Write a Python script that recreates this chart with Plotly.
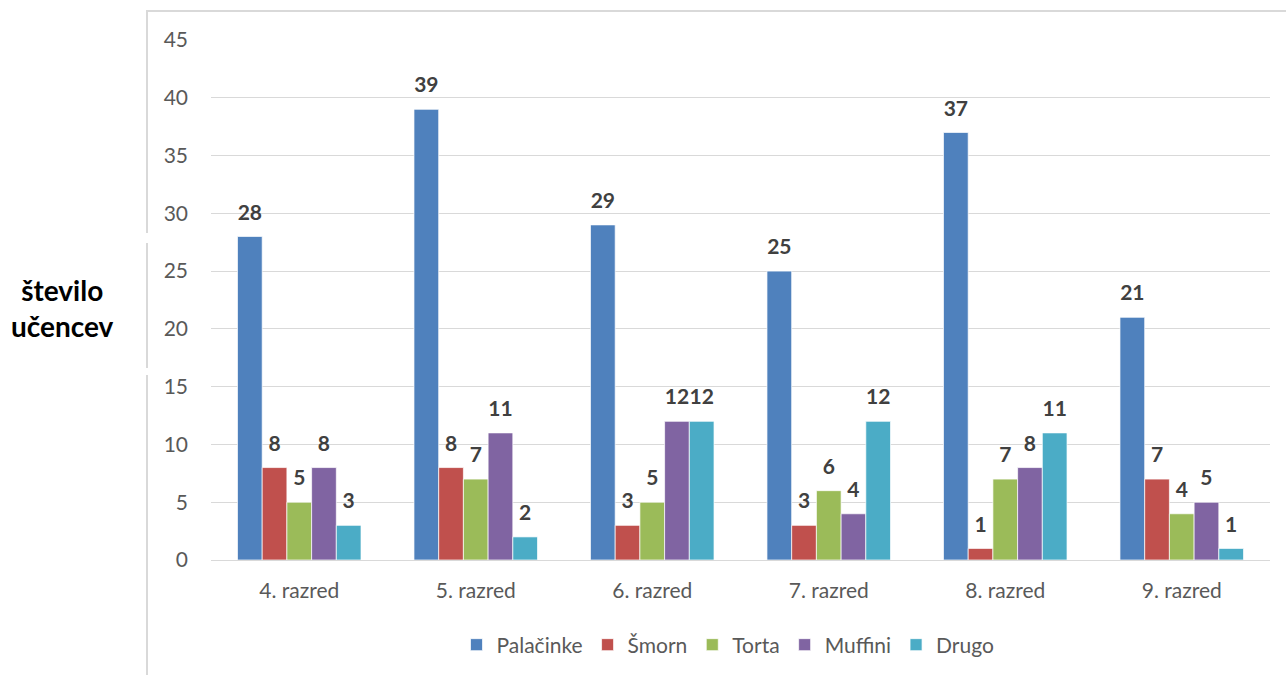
import plotly.graph_objects as go

# Survey: favourite sweet dish by grade
categories = ["4. razred", "5. razred", "6. razred", "7. razred", "8. razred", "9. razred"]
series_names = ["Palačinke", "Šmorn", "Torta", "Muffini", "Drugo"]
palacinke = [28, 39, 29, 25, 37, 21]
smorn = [8, 8, 3, 3, 1, 7]
torta = [5, 7, 5, 6, 7, 4]
muffini = [8, 11, 12, 4, 8, 5]
drugo = [3, 2, 12, 12, 11, 1]
y_ticks = [0, 5, 10, 15, 20, 25, 30, 35, 40, 45]

series_values = [palacinke, smorn, torta, muffini, drugo]
colors = ["#4F81BD", "#C0504D", "#9BBB59", "#8064A2", "#4BACC6"]

W, H = 1286, 675
ML, MR, MT, MB = 211, 16, 40, 115
PW, PH = W - ML - MR, H - MT - MB


def px_x(x):
    return (x - ML) / PW


def px_y(y):
    return (H - MB - y) / PH


FONT = "Lato"
fig = go.Figure()

for name, vals, col in zip(series_names, series_values, colors):
    fig.add_trace(go.Bar(
        name=name, x=categories, y=vals,
        marker=dict(color=col, line=dict(color="rgba(255,255,255,0.7)", width=1)),
        offsetgroup=name, hoverinfo="x+y+name",
    ))

# value labels, grouped alongside the bars
for name, vals in zip(series_names, series_values):
    fig.add_trace(go.Scatter(
        x=categories, y=vals, mode="text+markers", text=[str(v) for v in vals],
        textposition="top center", offsetgroup=name, showlegend=False,
        marker=dict(size=17, opacity=0),
        textfont=dict(family=FONT, size=21, color="#404040", weight="bold"),
        cliponaxis=False, hoverinfo="skip",
    ))

border = dict(type="line", xref="paper", yref="paper",
              line=dict(color="#D9D9D9", width=2))
shapes = [
    dict(border, x0=px_x(147), x1=px_x(1290), y0=px_y(11), y1=px_y(11)),
    dict(border, x0=px_x(147), x1=px_x(147), y0=px_y(10), y1=px_y(233)),
    dict(border, x0=px_x(147), x1=px_x(147), y0=px_y(243), y1=px_y(368)),
    dict(border, x0=px_x(147), x1=px_x(147), y0=px_y(375), y1=px_y(680)),
]

fig.update_layout(
    width=W, height=H,
    margin=dict(l=ML, r=MR, t=MT, b=MB),
    paper_bgcolor="white", plot_bgcolor="white",
    barmode="group", bargap=0.30, bargroupgap=0,
    scattermode="group", scattergap=0.30,
    font=dict(family=FONT, color="#595959"),
    shapes=shapes,
    showlegend=True,
    legend=dict(
        orientation="h", xref="container", yref="container",
        x=728 / W, xanchor="center", y=1 - 645 / H, yanchor="middle",
        font=dict(family=FONT, size=21, color="#595959"),
        traceorder="normal",
    ),
    annotations=[dict(
        text="število<br>učencev", xref="paper", yref="paper",
        x=px_x(62), y=px_y(308), xanchor="center", yanchor="middle",
        showarrow=False, align="center",
        font=dict(family=FONT, size=28, color="#000000", weight="bold"),
    )],
)

fig.update_xaxes(
    showgrid=False, showline=False, ticks="",
    tickfont=dict(family=FONT, size=21, color="#595959"),
    ticklabelstandoff=16,
)
fig.update_yaxes(
    range=[0, 45], tickvals=y_ticks, showgrid=True,
    gridcolor="#D9D9D9", gridwidth=1.3,
    zeroline=True, zerolinecolor="#D9D9D9", zerolinewidth=1.3,
    showline=False, ticks="",
    tickfont=dict(family=FONT, size=21, color="#595959"),
    ticklabelstandoff=22,
)

fig.write_html("out.html")
